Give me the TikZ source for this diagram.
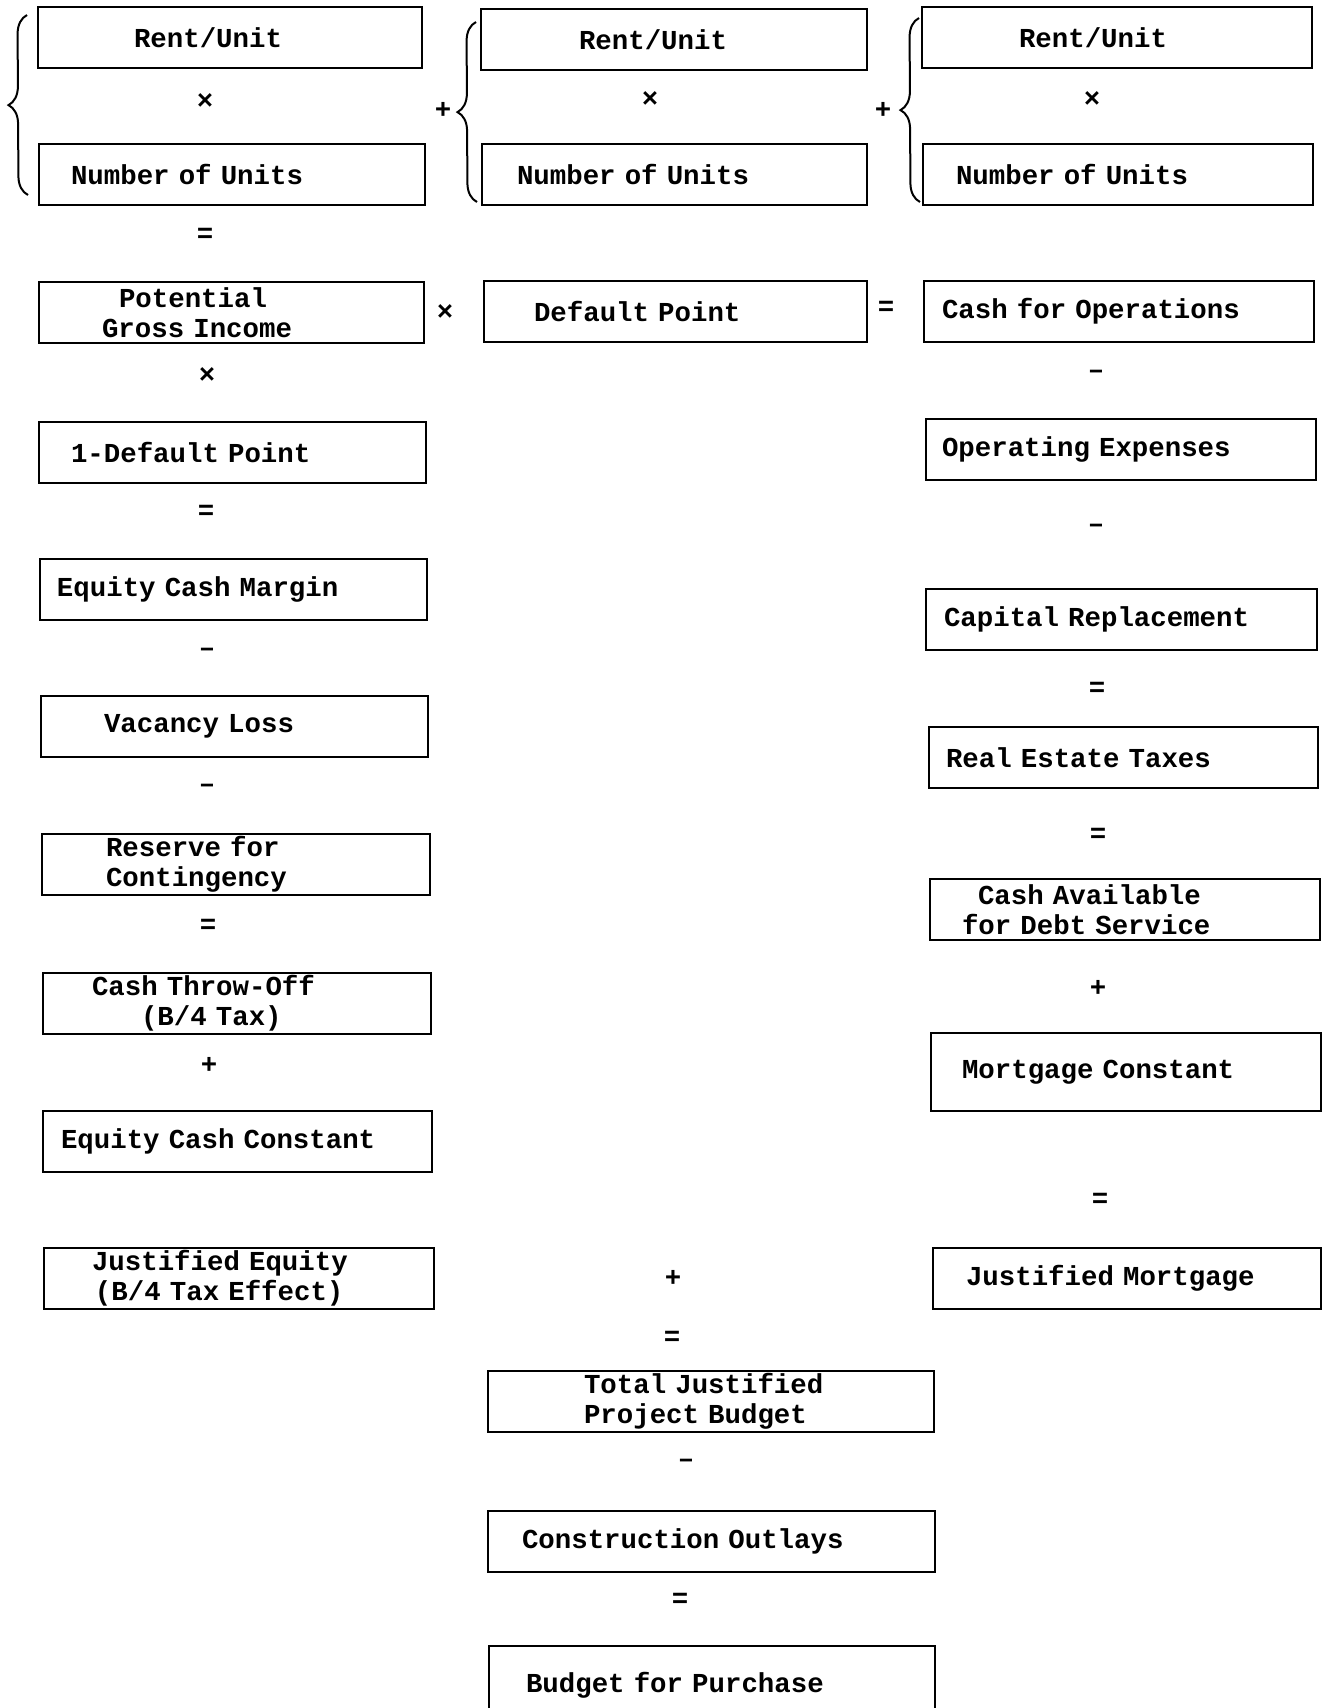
\documentclass[tikz,border=0pt]{standalone}
\usepackage{fontspec}
\newfontfamily\tw{Liberation Mono}
\usetikzlibrary{decorations.pathreplacing}
\newcommand{\indt}[1]{\hspace*{#1pt}}

\begin{document}
\begin{tikzpicture}[
  x=1pt, y=-1pt,
  box/.style={draw, line width=2pt, anchor=north west, inner xsep=0pt,
              inner ysep=0pt, align=left, text width=#1, minimum height=61pt,
              font=\tw\bfseries\fontsize{27.4}{30}\selectfont},
  box/.default=386pt,
  op/.style={inner sep=0pt, font=\tw\bfseries\fontsize{27.4}{30}\selectfont},
  brc/.style={decorate, decoration={brace, amplitude=19pt}, line width=2pt},
]
\useasboundingbox (0,0) rectangle (1322,1708);

% left column
\node[box=384pt] (ru1)  at (37,6)    {\indt{96}Rent/Unit};
\node[box]       (nu1)  at (38,143)  {\indt{32}Number of Units};
\node[box=385pt] (pgi)  at (38,281)  {\indt{80}Potential\\\indt{63}Gross Income};
\node[box=387pt] (odp)  at (38,421)  {\indt{32}1-Default Point};
\node[box=387pt] (ecm)  at (39,558)  {\indt{17}Equity Cash Margin};
\node[box=387pt] (vl)   at (40,695)  {\indt{63}Vacancy Loss};
\node[box=388pt] (rfc)  at (41,833)  {\indt{64}Reserve for\\\indt{64}Contingency};
\node[box=388pt] (cto)  at (42,972)  {\indt{49}Cash Throw-Off\\\indt{98}(B/4 Tax)};
\node[box=389pt] (ecc)  at (42,1110) {\indt{18}Equity Cash Constant};
\node[box=390pt] (je)   at (43,1247) {\indt{48}Justified Equity\\\indt{51}(B/4 Tax Effect)};

% middle column
\node[box]       (ru2)  at (480,8)    {\indt{98}Rent/Unit};
\node[box=385pt] (nu2)  at (481,143)  {\indt{35}Number of Units};
\node[box=383pt] (dp)   at (483,280)  {\indt{50}Default Point};
\node[box=446pt] (tjb)  at (487,1370) {\indt{96}Total Justified\\\indt{96}Project Budget};
\node[box=447pt] (co)   at (487,1510) {\indt{34}Construction Outlays};
\node[box=446pt, minimum height=78pt] (bfp) at (488,1645) {\indt{37}Budget for Purchase};

% right column
\node[box=390pt] (ru3)  at (921,6)    {\indt{97}Rent/Unit};
\node[box=390pt] (nu3)  at (922,143)  {\indt{33}Number of Units};
\node[box=390pt] (cfo)  at (923,280)  {\indt{18}Cash for Operations};
\node[box=390pt] (oe)   at (925,418)  {\indt{16}Operating Expenses};
\node[box=391pt] (cr)   at (925,588)  {\indt{18}Capital Replacement};
\node[box=389pt] (ret)  at (928,726)  {\indt{17}Real Estate Taxes};
\node[box=390pt] (cads) at (929,878)  {\indt{48}Cash Available\\\indt{32}for Debt Service};
\node[box=390pt, minimum height=78pt] (mc) at (930,1032) {\indt{31}Mortgage Constant};
\node[box=388pt] (jm)   at (932,1247) {\indt{33}Justified Mortgage};

% operators
\node[op] (l1) at (205,102)  {×};
\node[op] (l2) at (205,235)  {=};
\node[op] (l3) at (207,376)  {×};
\node[op] (l4) at (206,512)  {=};
\node[op] (l5) at (207,652)  {–};
\node[op] (l6) at (207,788)  {–};
\node[op] (l7) at (208,926)  {=};
\node[op] (l8) at (209,1065) {+};
\node[op] (m1) at (650,100)  {×};
\node[op] (m2) at (445,313)  {×};
\node[op] (m3) at (886,308)  {=};
\node[op] (p1) at (443,110)  {+};
\node[op] (p2) at (883,110)  {+};
\node[op] (r1) at (1092,100) {×};
\node[op] (r2) at (1096,374) {–};
\node[op] (r3) at (1096,528) {–};
\node[op] (r4) at (1097,689) {=};
\node[op] (r5) at (1098,835) {=};
\node[op] (r6) at (1098,988) {+};
\node[op] (r7) at (1100,1200) {=};
\node[op] (b1) at (673,1278) {+};
\node[op] (b2) at (672,1338) {=};
\node[op] (b3) at (686,1463) {–};
\node[op] (b4) at (680,1600) {=};

% braces
\draw[brc] ([shift={(-10,-11)}]nu1.south west) -- ([shift={(-10,9)}]ru1.north west);
\draw[brc] ([shift={(-4,-4)}]nu2.south west) -- ([shift={(-4,14)}]ru2.north west);
\draw[brc] ([shift={(-2,-4)}]nu3.south west) -- ([shift={(-2,12)}]ru3.north west);
\end{tikzpicture}
\end{document}
